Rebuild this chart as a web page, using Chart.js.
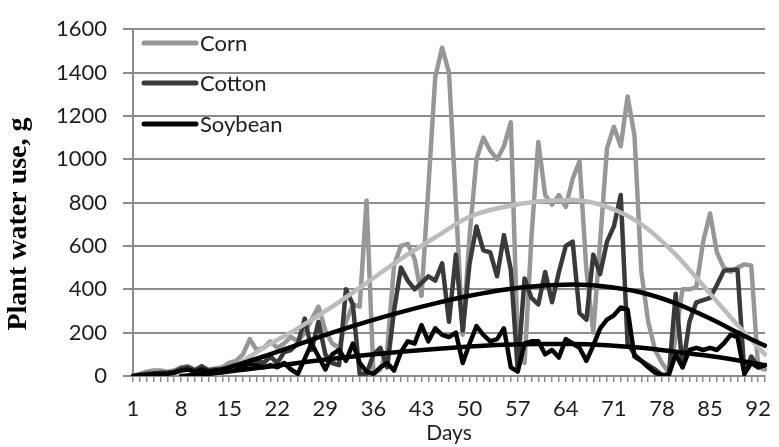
<!DOCTYPE html>
<html>
<head>
<meta charset="utf-8">
<script src="https://cdn.jsdelivr.net/npm/chart.js@4/dist/chart.umd.min.js"></script>
<style>
  html, body { margin: 0; padding: 0; background: #ffffff; }
  #wrap { width: 779px; height: 447px; }
</style>
</head>
<body>
<div id="wrap"><canvas id="chart" width="779" height="447"></canvas></div>
<script>
// Daily plant water use (g) over the season, days 1..93
const dayLabels = ['1','2','3','4','5','6','7','8','9','10','11','12','13','14','15','16','17','18','19','20',
  '21','22','23','24','25','26','27','28','29','30','31','32','33','34','35','36','37','38','39','40',
  '41','42','43','44','45','46','47','48','49','50','51','52','53','54','55','56','57','58','59','60',
  '61','62','63','64','65','66','67','68','69','70','71','72','73','74','75','76','77','78','79','80',
  '81','82','83','84','85','86','87','88','89','90','91','92','93'];
const dayTicks = ['1','8','15','22','29','36','43','50','57','64','71','78','85','92'];

const corn = [0,10,20,25,25,20,25,40,45,30,
  40,30,35,40,60,70,100,170,120,130,
  160,130,150,180,160,200,260,320,210,150,
  130,250,330,320,810,10,30,120,510,600,
  610,540,370,870,1380,1515,1400,800,190,650,
  1000,1100,1040,1000,1060,1170,150,60,640,1080,
  835,790,835,780,910,990,490,200,620,1050,
  1150,1060,1290,1110,480,250,120,60,15,180,
  400,400,410,620,750,570,500,480,500,515,
  510,40,30];

const cotton = [0,5,10,10,15,15,20,35,40,25,
  45,25,30,30,40,50,60,80,70,60,
  90,60,110,120,150,265,120,250,100,60,
  50,400,330,10,10,100,130,40,300,500,
  440,400,430,460,440,520,250,560,210,520,
  690,580,570,460,650,490,30,450,360,330,
  480,340,480,600,620,290,260,560,470,620,
  690,835,150,100,70,50,30,5,5,380,
  40,250,340,350,360,420,485,490,490,10,
  90,40,50];

const soybean = [0,5,5,10,10,10,15,25,30,20,
  30,20,25,25,30,40,45,55,50,40,
  50,40,60,30,10,80,150,90,30,100,
  120,70,150,60,20,10,40,60,25,110,
  160,150,235,160,220,190,180,200,60,150,
  230,190,160,170,220,40,20,150,160,160,
  100,120,85,170,150,130,70,140,220,260,
  280,316,307,90,70,40,15,5,5,100,
  40,120,130,120,130,120,150,190,180,10,
  60,40,50];

// Seasonal trend curves, knots by day
const cornTrendDays = [13,16,20,25,30,35,40,45,50,55,60,65,70,75,80,85,90,93];
const cornTrendValues = [0,50,130,220,320,430,540,640,735,780,805,812,780,700,560,380,200,100];
const cottonTrendDays = [10,15,20,25,30,35,40,45,50,55,60,65,70,75,80,85,90,93];
const cottonTrendValues = [0,40,90,145,200,250,295,335,370,398,415,422,412,385,335,265,185,140];
const soyTrendDays = [8,12,16,20,25,30,35,40,45,50,55,60,65,70,75,80,85,90,93];
const soyTrendValues = [0,10,25,40,60,80,97,112,125,136,144,148,148,142,130,112,92,67,50];

const knots = (days, vals) => days.map((d, i) => ({ x: String(d), y: vals[i] }));

const COL_CORN = '#979797';
const COL_COTTON = '#3a3a3a';
const COL_SOY = '#050505';
const COL_CORN_TREND = '#bcbcbc';
const TEXT = '#1e1e1e';

const legendItems = [
  { text: 'Corn', color: COL_CORN },
  { text: 'Cotton', color: COL_COTTON },
  { text: 'Soybean', color: COL_SOY }
];

// Legend inside the plot area, top-left
const innerLegend = {
  id: 'innerLegend',
  afterDraw(chart) {
    const ctx = chart.ctx;
    const ys = [43, 83, 124];
    ctx.save();
    legendItems.forEach((it, i) => {
      ctx.strokeStyle = it.color;
      ctx.lineWidth = 5;
      ctx.lineCap = 'round';
      ctx.beginPath();
      ctx.moveTo(144, ys[i]);
      ctx.lineTo(196, ys[i]);
      ctx.stroke();
      ctx.fillStyle = TEXT;
      ctx.font = '22px Lato';
      ctx.textAlign = 'left';
      ctx.textBaseline = 'middle';
      ctx.fillText(it.text, 200, ys[i] + 1);
    });
    ctx.restore();
  }
};

// Vertical axis title
const yTitle = {
  id: 'yTitle',
  afterDraw(chart) {
    const ctx = chart.ctx;
    ctx.save();
    ctx.translate(19, 224);
    ctx.rotate(-Math.PI / 2);
    ctx.fillStyle = '#000';
    ctx.font = 'bold 28px "Liberation Serif"';
    ctx.textAlign = 'center';
    ctx.textBaseline = 'middle';
    ctx.fillText('Plant water use, g', 0, 0);
    ctx.restore();
  }
};

const dataLine = (label, data, color, order) => ({
  label, data, borderColor: color, backgroundColor: color,
  borderWidth: 4.5, pointRadius: 0, tension: 0, order,
  borderJoinStyle: 'round', borderCapStyle: 'round'
});
const trendLine = (label, data, color, order) => ({
  label, data, borderColor: color, backgroundColor: color,
  borderWidth: 4.5, pointRadius: 0, order, spanGaps: true,
  cubicInterpolationMode: 'monotone', borderCapStyle: 'round'
});

new Chart(document.getElementById('chart'), {
  type: 'line',
  data: {
    labels: dayLabels,
    datasets: [
      dataLine('Corn', corn, COL_CORN, 5),
      dataLine('Cotton', cotton, COL_COTTON, 4),
      dataLine('Soybean', soybean, COL_SOY, 3),
      trendLine('Corn trend', knots(cornTrendDays, cornTrendValues), COL_CORN_TREND, 2),
      trendLine('Cotton trend', knots(cottonTrendDays, cottonTrendValues), '#000', 1),
      trendLine('Soybean trend', knots(soyTrendDays, soyTrendValues), '#000', 0)
    ]
  },
  options: {
    responsive: false,
    devicePixelRatio: 1,
    animation: false,
    layout: { padding: { left: 0, right: 6, top: 16, bottom: 0 } },
    plugins: { legend: { display: false }, tooltip: { enabled: false } },
    scales: {
      x: {
        type: 'category',
        offset: false,
        grid: { drawOnChartArea: false, drawTicks: true, tickLength: 6, color: '#8c8c8c', lineWidth: 1.5 },
        border: { display: true, color: '#8c8c8c', width: 2 },
        ticks: {
          autoSkip: false, maxRotation: 0, minRotation: 0, padding: 14,
          color: TEXT, font: { family: 'Lato', size: 22 },
          callback: function (v) {
            const lab = this.getLabelForValue(v);
            return dayTicks.includes(lab) ? lab : '';
          }
        },
        title: { display: true, text: 'Days', color: TEXT, font: { family: 'Lato', size: 21 }, padding: { top: 0, bottom: 1 } },
        afterFit: s => { s.height = 71; }
      },
      y: {
        min: 0, max: 1600,
        ticks: { stepSize: 200, padding: 16, color: TEXT, font: { family: 'Lato', size: 22 },
          callback: v => String(v) },
        grid: { color: '#8c8c8c', lineWidth: 2, tickLength: 10 },
        border: { display: true, color: '#8c8c8c', width: 2 },
        afterFit: s => { s.width = 133; }
      }
    }
  },
  plugins: [innerLegend, yTitle]
});
</script>
</body>
</html>
